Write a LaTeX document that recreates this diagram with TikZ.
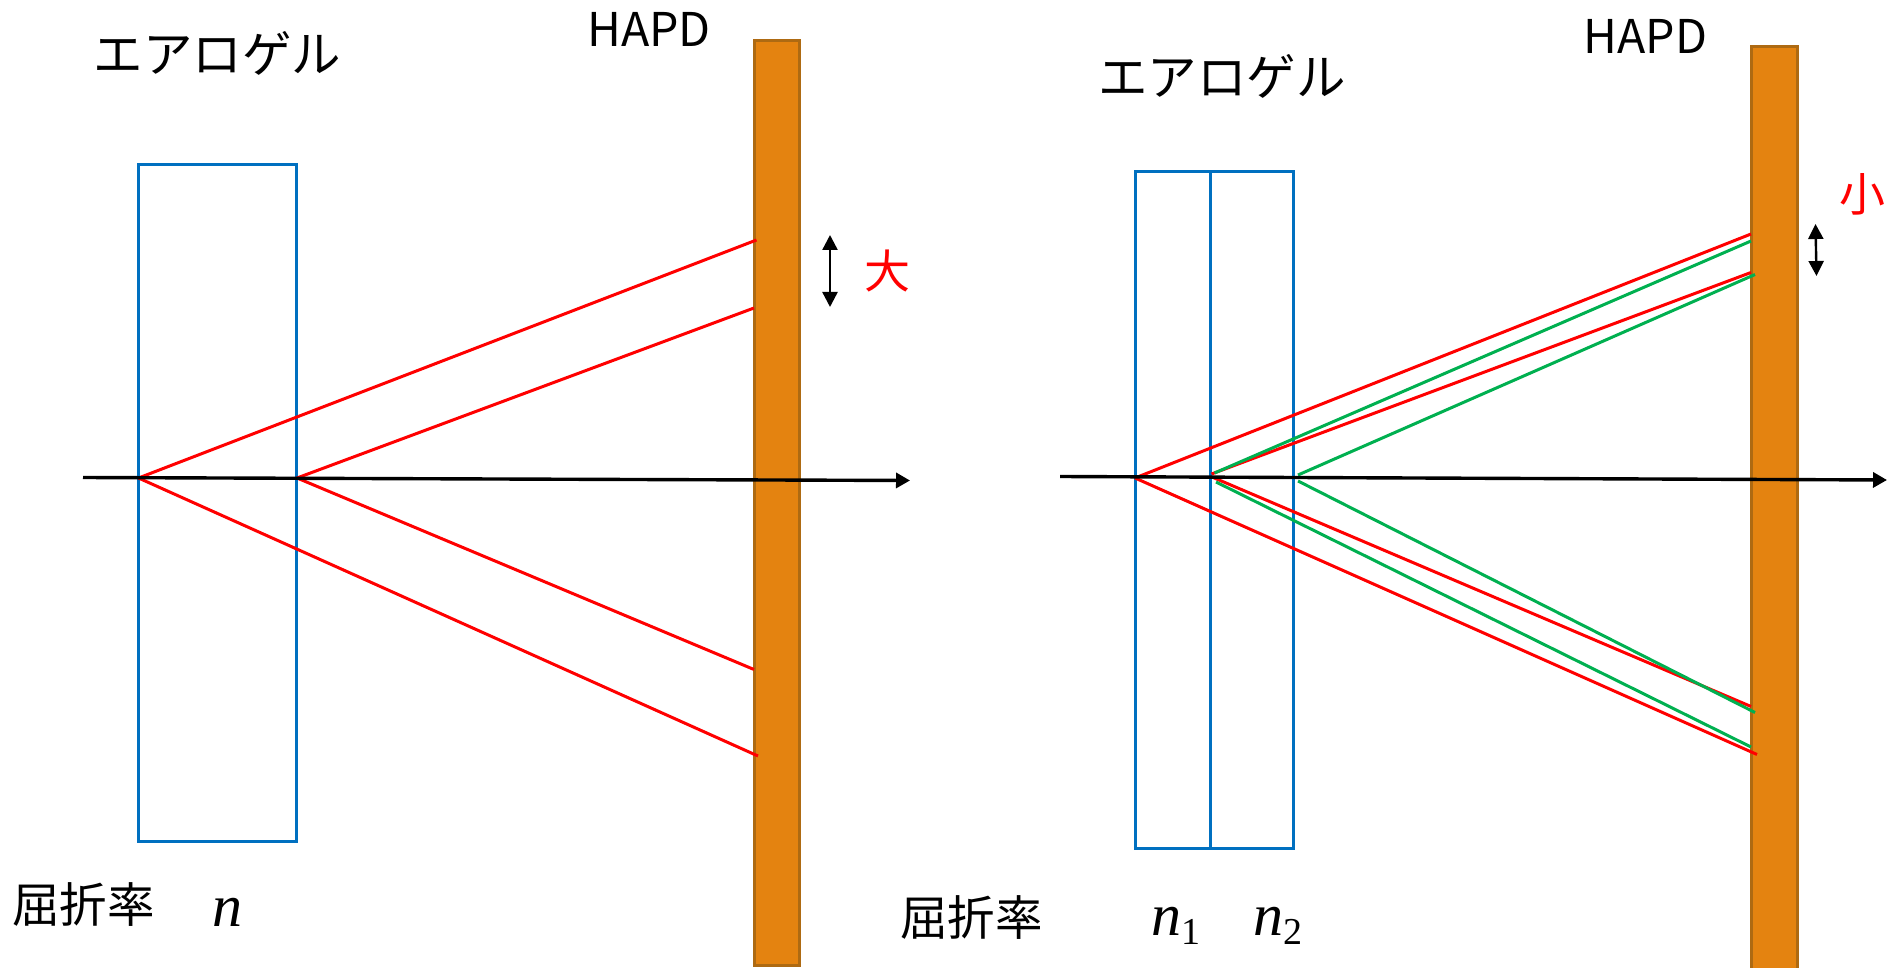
\documentclass[tikz,border=0pt]{standalone}
\usepackage{fontspec}
\setmainfont{Noto Sans CJK JP}
\newfontfamily\mathserif{Liberation Serif}
\usetikzlibrary{arrows.meta}
\definecolor{hapdfill}{HTML}{E48310}
\definecolor{hapdedge}{HTML}{AE6A12}
\definecolor{gelblue}{HTML}{0070C0}
\definecolor{raygreen}{HTML}{00B050}
\newcommand{\refidx}[1]{{\mathserif\itshape n}\raisebox{-9pt}{\mathserif\fontsize{38}{44}\selectfont #1}}
\tikzset{
  x=1pt,y=-1pt,
  gelbox/.style={draw=gelblue,line width=3pt,fill=none,minimum height=#1,inner sep=0pt,outer sep=0pt},
  hapd/.style={draw=hapdedge,fill=hapdfill,line width=3pt,inner sep=0pt,outer sep=0pt},
  redray/.style={draw=red,line width=3pt},
  greenray/.style={draw=raygreen,line width=3pt},
  axisline/.style={draw=black,line width=3.4pt,-{Triangle[length=14pt,width=15pt]}},
  gaparrow/.style={draw=black,line width=2.4pt,{Triangle[length=15pt,width=15pt]}-{Triangle[length=15pt,width=15pt]}},
  label/.style={inner sep=0pt,outer sep=0pt,font=\fontsize{47.5}{56}\selectfont},
  aerolabel/.style={inner sep=0pt,outer sep=0pt,font=\fontsize{49.5}{58}\selectfont},
  hapdlabel/.style={inner sep=0pt,outer sep=0pt,font=\fontsize{46.5}{56}\selectfont},
  sizelabel/.style={inner sep=0pt,outer sep=0pt,text=red,font=\fontsize{46}{54}\selectfont},
  mathlabel/.style={inner sep=0pt,outer sep=0pt,font=\fontsize{60}{68}\selectfont}
}
\begin{document}
\begin{tikzpicture}
\useasboundingbox (0,0) rectangle (1887,968);
\node[gelbox=677pt,minimum width=158.5pt] (boxL) at (217.7,503.3) {};
\node[hapd,minimum width=45.5pt,minimum height=925pt] (hapdL) at (777,503) {};
\node[gelbox=677pt,minimum width=158pt] (boxR) at (1214,510) {};
\node[hapd,minimum width=45.5pt,minimum height=935pt] (hapdR) at (1774.5,514.5) {};
\coordinate (divT) at (1210.5,170.5);
\coordinate (divB) at (1210.5,848.5);
\draw[draw=gelblue,line width=2.6pt] (divT) -- (divB);
% left rays
\coordinate (La) at (138.5,478);
\coordinate (Lb) at (297,478);
\coordinate (La1) at (756.5,240);
\coordinate (Lb1) at (754,308);
\coordinate (Lb2) at (754,669.5);
\coordinate (La2) at (758,756);
\draw[redray] (La) -- (La1);
\draw[redray] (Lb) -- (Lb1);
\draw[redray] (Lb) -- (Lb2);
\draw[redray] (La) -- (La2);
% right rays
\coordinate (Ra) at (1135,478);
\coordinate (Rb) at (1211.5,474);
\coordinate (Rc) at (1212,477);
\coordinate (Rd) at (1214.5,473);
\coordinate (Re) at (1216,482);
\coordinate (Rf) at (1298,475);
\coordinate (Rg) at (1298,481);
\coordinate (Ra1) at (1751,234);
\coordinate (Rb1) at (1751,272.5);
\coordinate (Rd1) at (1751,241);
\coordinate (Rf1) at (1755,274.5);
\coordinate (Ra2) at (1757,754.5);
\coordinate (Rc2) at (1751,706.5);
\coordinate (Re2) at (1751,747);
\coordinate (Rg2) at (1755,712.5);
\draw[redray] (Ra) -- (Ra1);
\draw[redray] (Rb) -- (Rb1);
\draw[redray] (Rc) -- (Rc2);
\draw[redray] (Ra) -- (Ra2);
\draw[greenray] (Rd) -- (Rd1);
\draw[greenray] (Rf) -- (Rf1);
\draw[greenray] (Rg) -- (Rg2);
\draw[greenray] (Re) -- (Re2);
% axes
\coordinate (axLs) at (83,477.5);
\coordinate (axLe) at (910,480.5);
\coordinate (axRs) at (1060,476.5);
\coordinate (axRe) at (1887,480);
\draw[axisline] (axLs) -- (axLe);
\draw[axisline] (axRs) -- (axRe);
% gap arrows
\coordinate (gLt) at (830,235);
\coordinate (gLb) at (830,307);
\coordinate (gRt) at (1815.5,224);
\coordinate (gRb) at (1816.5,276);
\draw[gaparrow] (gLt) -- (gLb);
\draw[gaparrow] (gRt) -- (gRb);
% labels
\node[aerolabel] (aeroL) at (217.5,53) {エアロゲル};
\node[aerolabel] (aeroR) at (1222,76) {エアロゲル};
\node[hapdlabel] (hL) at (649,29) {HAPD};
\node[hapdlabel] (hR) at (1645.5,36) {HAPD};
\node[sizelabel] (big) at (887,271) {大};
\node[sizelabel] (small) at (1862,194) {小};
\node[label] (refL) at (83.5,905) {屈折率};
\node[label] (refR) at (971.5,918) {屈折率};
\node[mathlabel,anchor=base] (nL) at (227,926) {{\mathserif\itshape n}};
\node[mathlabel,anchor=base] (n1) at (1176,935) {\refidx{1}};
\node[mathlabel,anchor=base] (n2) at (1278,935) {\refidx{2}};
\end{tikzpicture}
\end{document}
